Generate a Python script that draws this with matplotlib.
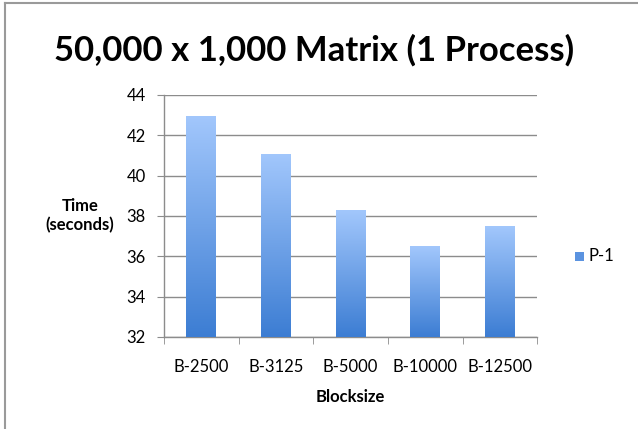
import matplotlib.pyplot as plt
import numpy as np
from matplotlib.colors import LinearSegmentedColormap
from matplotlib.lines import Line2D

plt.rcParams['font.family'] = ['Lato', 'DejaVu Sans']

blocksizes = ["B-2500", "B-3125", "B-5000", "B-10000", "B-12500"]
times = [42.95, 41.08, 38.28, 36.5, 37.5]
series_name = "P-1"
y_ticks = [32, 34, 36, 38, 40, 42, 44]

fig = plt.figure(figsize=(6.38, 4.29), dpi=100)
ax = fig.add_axes([0.257, 0.2145, 0.585, 0.5645])

x = np.arange(len(blocksizes))
bars = ax.bar(x, times, width=0.4, color="none", edgecolor="none", zorder=3)

# vertical gradient fill for each bar (light at top, darker at bottom)
cmap = LinearSegmentedColormap.from_list("bar_grad", ["#3C7DD3", "#A2C7FC"])
grad = np.linspace(0, 1, 256).reshape(-1, 1)
ymin = y_ticks[0]
for b in bars:
    x0, w, h = b.get_x(), b.get_width(), b.get_height()
    im = ax.imshow(grad, cmap=cmap, origin="lower", aspect="auto",
                   extent=[x0, x0 + w, ymin, h], zorder=3)
    im.set_clip_path(b)

ax.set_xlim(-0.5, len(blocksizes) - 0.5)
ax.set_ylim(y_ticks[0], y_ticks[-1])
ax.set_yticks(y_ticks)
ax.set_xticks(x)
ax.set_xticklabels(blocksizes)
ax.set_xticks(np.arange(-0.5, len(blocksizes)), minor=True)

ax.grid(axis="y", color="#8c8c8c", linewidth=1, zorder=1)
ax.set_axisbelow(True)
for side in ["top", "right"]:
    ax.spines[side].set_visible(False)
for side in ["left", "bottom"]:
    ax.spines[side].set_color("#8c8c8c")
    ax.spines[side].set_linewidth(1)

ax.tick_params(axis="y", which="major", length=5, color="#8c8c8c",
               pad=8, labelsize=12)
ax.tick_params(axis="x", which="major", length=0, pad=16, labelsize=12)
ax.tick_params(axis="x", which="minor", length=5, color="#8c8c8c")

ax.set_xlabel("Blocksize", fontsize=12, fontweight="bold", labelpad=10)
ax.set_ylabel("Time\n(seconds)", fontsize=12, fontweight="bold",
              rotation=0, ha="center", va="center")
ax.yaxis.set_label_coords(-0.225, 0.5)

fig.suptitle("50,000 x 1,000 Matrix (1 Process)", fontsize=25,
             fontweight="bold", x=0.492, y=0.92)

# legend
fig.patches.append(plt.Rectangle((575 / 638, 1 - 261 / 429), 9 / 638, 9 / 429,
                                 transform=fig.transFigure,
                                 facecolor="#5B93E0", edgecolor="none"))
fig.text(589 / 638, 1 - 256 / 429, series_name, fontsize=12, va="center")

# outer frame
fig.add_artist(Line2D([5 / 638, 5 / 638], [0, 1 - 3 / 429], color="#9a9a9a", lw=1.5))
fig.add_artist(Line2D([5 / 638, 1], [1 - 3 / 429, 1 - 3 / 429], color="#9a9a9a", lw=1.5))

fig.savefig("out.png", dpi=100)
